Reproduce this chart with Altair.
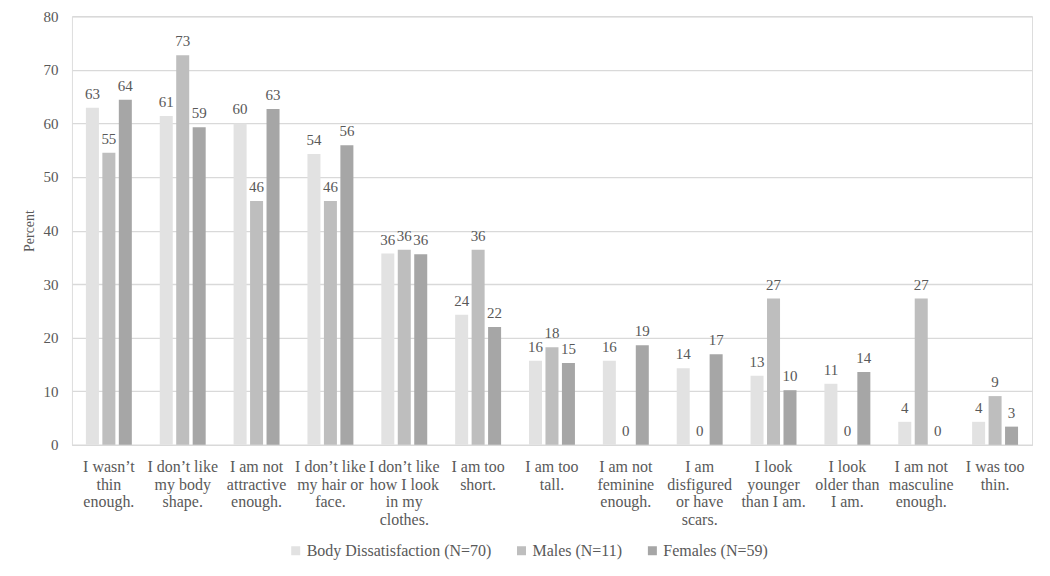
import altair as alt
import pandas as pd

categories = [
    "I wasn’t|thin|enough.",
    "I don’t like|my body|shape.",
    "I am not|attractive|enough.",
    "I don’t like|my hair or|face.",
    "I don’t like|how I look|in my|clothes.",
    "I am too|short.",
    "I am too|tall.",
    "I am not|feminine|enough.",
    "I am|disfigured|or have|scars.",
    "I look|younger|than I am.",
    "I look|older than|I am.",
    "I am not|masculine|enough.",
    "I was too|thin.",
]
series = ["Body Dissatisfaction (N=70)", "Males (N=11)", "Females (N=59)"]
total = [62.9, 61.4, 60.0, 54.3, 35.7, 24.3, 15.7, 15.7, 14.3, 12.9, 11.4, 4.3, 4.3]
males = [54.5, 72.7, 45.5, 45.5, 36.4, 36.4, 18.2, 0.0, 0.0, 27.3, 0.0, 27.3, 9.1]
females = [64.4, 59.3, 62.7, 55.9, 35.6, 22.0, 15.3, 18.6, 16.9, 10.2, 13.6, 0.0, 3.4]
total_labels = ["63", "61", "60", "54", "36", "24", "16", "16", "14", "13", "11", "4", "4"]
males_labels = ["55", "73", "46", "46", "36", "36", "18", "0", "0", "27", "0", "27", "9"]
females_labels = ["64", "59", "63", "56", "36", "22", "15", "19", "17", "10", "14", "0", "3"]
colors = ["#E2E2E2", "#BEBEBE", "#A6A6A6"]

rows = []
for i, c in enumerate(categories):
    for s, vals, labs in zip(series, [total, males, females], [total_labels, males_labels, females_labels]):
        rows.append({"cat": c, "series": s, "value": vals[i], "label": labs[i]})
df = pd.DataFrame(rows)

FONT = "'Liberation Serif', 'Times New Roman', Times, serif"
TXT = "#595959"

x = alt.X("cat:N", sort=categories, title=None,
          scale=alt.Scale(paddingInner=0.378, paddingOuter=0.189),
          axis=alt.Axis(labelExpr="split(datum.label, '|')", labelAngle=0,
                        labelFont=FONT, labelFontSize=16, labelColor=TXT,
                        labelLineHeight=17.5, labelPadding=14, ticks=False,
                        domainColor="#D9D9D9", domainWidth=1.3, labelBaseline="top"))
xo = alt.XOffset("series:N", sort=series, scale=alt.Scale(paddingInner=0.21, paddingOuter=0))
y = alt.Y("value:Q", title="Percent",
          scale=alt.Scale(domain=[0, 80], nice=False),
          axis=alt.Axis(values=list(range(0, 81, 10)), labelFont=FONT, labelFontSize=15,
                        labelColor=TXT, labelPadding=14, ticks=False, domain=False,
                        gridColor="#D9D9D9", gridWidth=1.3,
                        titleFont=FONT, titleFontSize=14, titleColor=TXT,
                        titleFontWeight="normal", titlePadding=6))

bars = alt.Chart(df).mark_bar().encode(
    x=x, xOffset=xo, y=y,
    color=alt.Color("series:N", sort=series,
                    scale=alt.Scale(domain=series, range=colors),
                    legend=alt.Legend(title=None, orient="none", direction="horizontal",
                                      legendX=216, legendY=527, symbolType="square",
                                      symbolSize=81, symbolStrokeWidth=0,
                                      labelFont=FONT, labelFontSize=16, labelColor=TXT,
                                      labelLimit=400, labelOffset=3, columnPadding=22,
                                      padding=0)),
)
texts = alt.Chart(df).mark_text(font=FONT, fontSize=15, color=TXT, baseline="alphabetic", dy=-9).encode(
    x=x, xOffset=xo, y=y, text="label:N"
)

chart = (bars + texts).properties(
    width=961, height=429,
    autosize=alt.AutoSizeParams(type="none"),
    padding={"left": 64, "top": 8, "right": 10, "bottom": 118},
).configure_view(stroke=None).configure(background="white")

chart.save("out.html", embed_options={"renderer": "svg", "actions": False})
